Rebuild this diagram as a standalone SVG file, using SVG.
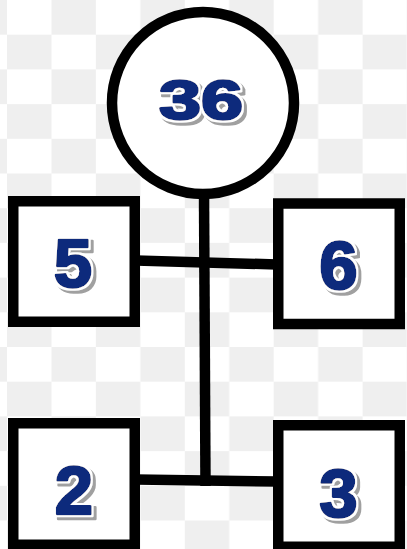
<svg xmlns="http://www.w3.org/2000/svg" width="407" height="549" viewBox="0 0 407 549">
  <defs>
    <pattern id="checker" x="7" y="0" width="88.9" height="69.4" patternUnits="userSpaceOnUse">
      <rect x="0" y="0" width="88.9" height="69.4" fill="#ffffff"/>
      <rect x="44.45" y="0" width="44.45" height="34.7" fill="#efefef"/>
      <rect x="0" y="34.7" width="44.45" height="34.7" fill="#efefef"/>
    </pattern>
    <filter id="wordart" x="-20%" y="-20%" width="150%" height="150%">
      <feMorphology in="SourceAlpha" operator="dilate" radius="1.6" result="thick"/>
      <feOffset in="thick" dx="2.5" dy="2.5" result="off"/>
      <feFlood flood-color="#a0a0a0" result="grey"/>
      <feComposite in="grey" in2="off" operator="in" result="shadow"/>
      <feFlood flood-color="#ffffff" result="white"/>
      <feComposite in="white" in2="thick" operator="in" result="outline"/>
      <feMerge>
        <feMergeNode in="shadow"/>
        <feMergeNode in="outline"/>
        <feMergeNode in="SourceGraphic"/>
      </feMerge>
    </filter>
  </defs>
  <style>
    .shape { fill: #ffffff; stroke: #000000; stroke-width: 10.5; }
    .conn { stroke: #000000; stroke-width: 10.5; fill: none; stroke-linecap: butt; }
    .lbl { font-family: "Liberation Sans", Arial, sans-serif; font-weight: bold; text-anchor: middle;
           fill: #0d2b7c; stroke: #0d2b7c; stroke-width: 2.5; stroke-linejoin: round; filter: url(#wordart); }
  </style>
  <rect x="0" y="0" width="407" height="549" fill="url(#checker)"/>

  <g id="connectors">
    <line class="conn" x1="204" y1="192" x2="205.5" y2="486"/>
    <line class="conn" x1="136" y1="260.5" x2="277" y2="264.5"/>
    <line class="conn" x1="136" y1="479.5" x2="277" y2="481.5"/>
  </g>

  <g id="node-36">
    <circle class="shape" cx="203" cy="103" r="91"/>
    <text class="lbl" x="201" y="119" font-size="56" textLength="84" lengthAdjust="spacingAndGlyphs">36</text>
  </g>

  <g id="node-5">
    <rect class="shape" x="13.25" y="201.25" width="121.5" height="120.5"/>
    <text class="lbl" x="73" y="287" font-size="69">5</text>
  </g>

  <g id="node-6">
    <rect class="shape" x="278.25" y="203.5" width="121.5" height="120.5"/>
    <text class="lbl" x="338.5" y="289" font-size="69">6</text>
  </g>

  <g id="node-2">
    <rect class="shape" x="13.25" y="423.25" width="121.5" height="121.5"/>
    <text class="lbl" x="74" y="514" font-size="69">2</text>
  </g>

  <g id="node-3">
    <rect class="shape" x="278.25" y="425.25" width="121.5" height="121.5"/>
    <text class="lbl" x="338.5" y="517" font-size="69">3</text>
  </g>
</svg>
